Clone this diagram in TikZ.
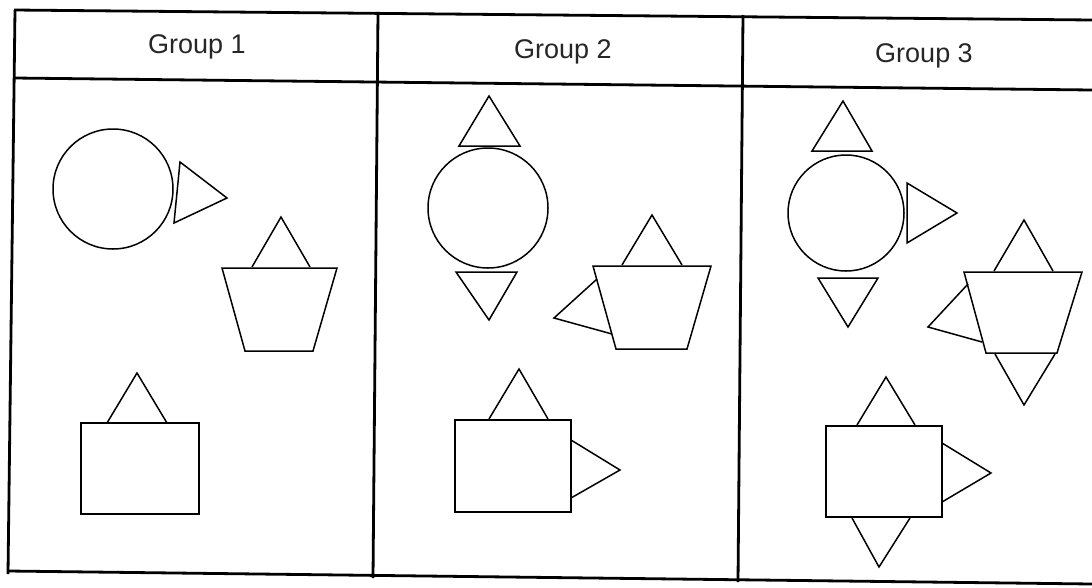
\documentclass[tikz,border=0pt]{standalone}
\usepackage{fontspec}
\setmainfont{Liberation Sans}
\begin{document}
\begin{tikzpicture}[x=1pt,y=-1pt,
  tableline/.style={line width=2.8pt,black},
  shp/.style={line width=1.5pt,black,line join=miter},
  head/.style={font=\fontsize{27}{32}\selectfont,text=black!85,inner sep=0pt}]
\useasboundingbox (0,0) rectangle (1092,587);
% table
\draw[tableline] (14,10) -- (1092,20);
\draw[tableline] (14,78) -- (1092,90);
\draw[tableline] (8,571) -- (1092,584);
\draw[tableline] (15,10) -- (8,574);
\draw[tableline] (378,12) -- (373,578);
\draw[tableline] (743,15) -- (738,582);
% headers
\node[head] (g1) at (197,47) {Group 1};
\node[head] (g2) at (563,52) {Group 2};
\node[head] (g3) at (924,56) {Group 3};
% ---- Group 1
\draw[shp] (113,189) circle (60);
\draw[shp] (180,162) -- (174,223) -- (227,198) -- cycle;
\draw[shp] (222,268) -- (337,268) -- (313,351) -- (245,351) -- cycle;
\draw[shp] (252,267) -- (281,217) -- (310,267);
\draw[shp] (81,423) rectangle (199,514);
\draw[shp] (107,423) -- (137,373) -- (167,423);
% ---- Group 2
\draw[shp] (459,146) -- (489,96) -- (520,146) -- cycle;
\draw[shp] (488,208) circle (60);
\draw[shp] (456,272) -- (517,272) -- (489,320) -- cycle;
\draw[shp] (593,266) -- (711,266) -- (687,349) -- (616,349) -- cycle;
\draw[shp] (622,265) -- (652,215) -- (682,265);
\draw[shp] (597,279) -- (554,318) -- (612,334);
\draw[shp] (455,420) rectangle (571,512);
\draw[shp] (489,419) -- (519,369) -- (548,419);
\draw[shp] (571,440) -- (620,470) -- (571,498);
% ---- Group 3
\draw[shp] (812,151) -- (843,101) -- (872,151) -- cycle;
\draw[shp] (846,213) circle (58);
\draw[shp] (907,183) -- (957,213) -- (907,243) -- cycle;
\draw[shp] (818,278) -- (878,278) -- (848,327) -- cycle;
\draw[shp] (964,272) -- (1082,272) -- (1057,353) -- (986,353) -- cycle;
\draw[shp] (994,271) -- (1024,220) -- (1053,271);
\draw[shp] (968,284) -- (928,327) -- (982,342);
\draw[shp] (995,354) -- (1024,405) -- (1055,354);
\draw[shp] (826,426) rectangle (942,517);
\draw[shp] (857,425) -- (886,377) -- (915,425);
\draw[shp] (852,518) -- (879,567) -- (910,518);
\draw[shp] (942,443) -- (991,473) -- (942,502);
\end{tikzpicture}
\end{document}
